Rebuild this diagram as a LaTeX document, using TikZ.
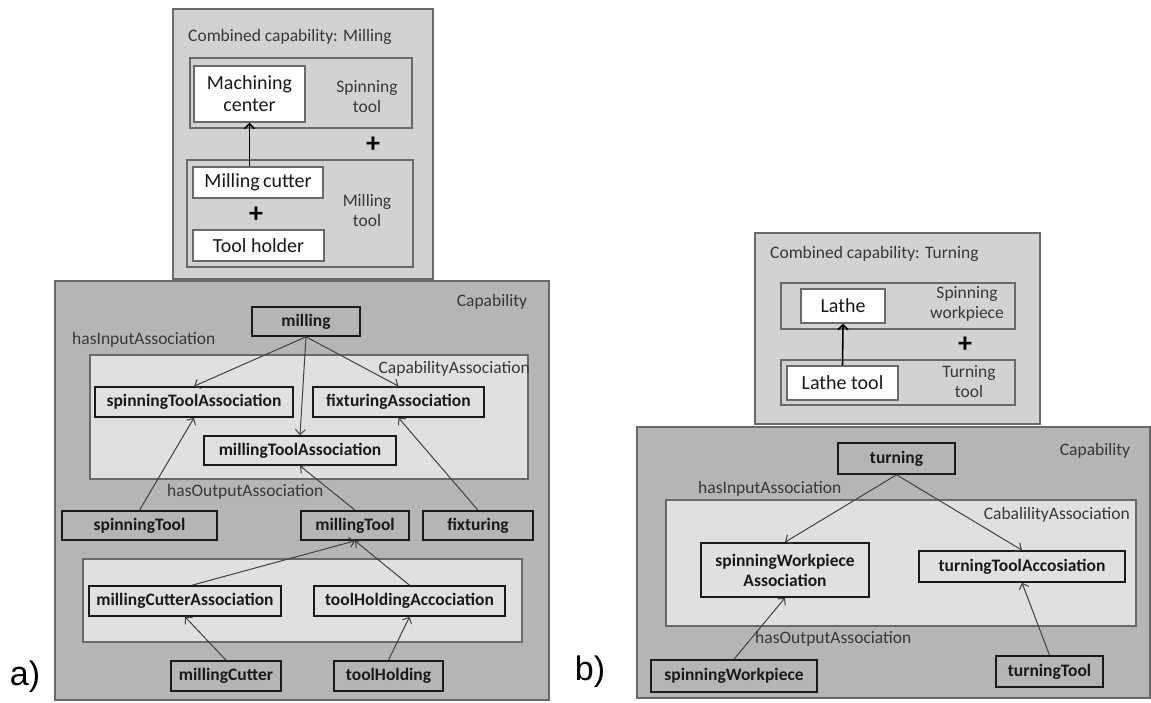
\documentclass[tikz,border=0pt]{standalone}
\usepackage{fontspec}
\setmainfont{Carlito}
\newfontfamily\arialfont{Liberation Sans}
\usetikzlibrary{arrows.meta}
\definecolor{capgray}{RGB}{181,181,181}
\definecolor{combgray}{RGB}{210,210,210}
\definecolor{assocgray}{RGB}{224,224,224}
\definecolor{edgegray}{RGB}{105,105,105}
\definecolor{txtgray}{RGB}{55,55,55}
\tikzset{
    capbox/.style={fill=capgray, draw=edgegray, line width=1.4pt},
    combbox/.style={fill=combgray, draw=edgegray, line width=1.4pt},
    assocbox/.style={fill=assocgray, draw=edgegray, line width=1.2pt},
    item/.style={draw=black!90, line width=1.6pt, inner sep=0pt, align=center,
        font=\fontsize{17.5}{20}\selectfont\bfseries, text=black!90},
    part/.style={fill=white, draw=edgegray, line width=1.2pt, inner sep=0pt,
        align=center, font=\fontsize{20}{22}\selectfont, text=black!90},
    lbl/.style={inner sep=0pt, font=\fontsize{17.5}{20}\selectfont, text=txtgray, align=center},
    plus/.style={inner sep=0pt, font=\fontsize{28}{28}\selectfont\bfseries},
    tag/.style={inner sep=0pt, font=\fontsize{34}{36}\selectfont\arialfont},
    link/.style={-{Straight Barb[length=5pt,width=10pt]}, draw=black!75, line width=1pt},
    uses/.style={-{Straight Barb[length=5pt,width=10pt]}, draw=black, line width=1.6pt}
}
\begin{document}
\begin{tikzpicture}[x=1pt, y=-1pt]
    \useasboundingbox (0,0) rectangle (1151,702);
    % a) milling
    \draw[combbox] (173,9) rectangle (433,279);
    \draw[combbox] (190,58) rectangle (412,128);
    \draw[combbox] (187,160) rectangle (413,267);
    \node[lbl, anchor=west] (combA) at (188,37) {Combined capability: Milling};
    \node[part, minimum width=111pt, minimum height=56pt] (center) at (249.5,94) {Machining\\center};
    \node[part, minimum width=130pt, minimum height=31pt] (cutter) at (258,182.5) {Milling\,cutter};
    \node[part, minimum width=131pt, minimum height=31pt] (holder) at (258.5,245.5) {Tool holder};
    \node[lbl] (spinT) at (367,97) {Spinning\\tool};
    \node[lbl] (millT) at (367,210.5) {Milling\\tool};
    \node[plus] (plusA) at (373,145) {+};
    \node[plus] (plusB) at (256,215) {+};
    \draw[uses] (cutter.north -| center.south) -- (center.south);

    \draw[capbox] (55,281) rectangle (549,700);
    \draw[assocbox] (90,355) rectangle (528,479);
    \draw[assocbox] (83,559) rectangle (522,642);
    \node[lbl] (capA) at (492,302) {Capability};
    \node[lbl, anchor=west] (inA) at (72,340) {hasInputAssociation};
    \node[lbl, anchor=east] (assA) at (530,369) {CapabilityAssociation};
    \node[lbl, anchor=west] (outA) at (167,492) {hasOutputAssociation};
    \node[item, minimum width=108pt, minimum height=29pt] (milling) at (306,321.5) {milling};
    \node[item, minimum width=198pt, minimum height=30pt] (sTA) at (194,402) {spinningToolAssociation};
    \node[item, minimum width=171pt, minimum height=30pt] (fxA) at (398.5,402) {fixturingAssociation};
    \node[item, minimum width=192pt, minimum height=29pt] (mTA) at (300,450.5) {millingToolAssociation};
    \node[item, minimum width=155pt, minimum height=29pt] (sTool) at (139.5,525.5) {spinningTool};
    \node[item, minimum width=108pt, minimum height=29pt] (mTool) at (355,525.5) {millingTool};
    \node[item, minimum width=110pt, minimum height=29pt] (fixt) at (478,525.5) {fixturing};
    \node[item, minimum width=192pt, minimum height=30pt] (mCA) at (185,601) {millingCutterAssociation};
    \node[item, minimum width=191pt, minimum height=30pt] (tHA) at (409.5,601) {toolHoldingAccociation};
    \node[item, minimum width=110pt, minimum height=30pt] (mCut) at (226,676) {millingCutter};
    \node[item, minimum width=109pt, minimum height=30pt] (tHold) at (388.5,676) {toolHolding};
    \draw[link] (milling.south) -- (sTA.north);
    \draw[link] (milling.south) -- (mTA.north);
    \draw[link] (milling.south) -- (fxA.north);
    \draw[link] (sTool.north) -- (sTA.south);
    \draw[link] (mTool.north) -- (mTA.south);
    \draw[link] (fixt.north) -- (fxA.south);
    \draw[link] ([xshift=7pt]mCA.north) -- (mTool.south);
    \draw[link] (tHA.north) -- (mTool.south);
    \draw[link] (mCut.north) -- (mCA.south);
    \draw[link] (tHold.north) -- (tHA.south);
    \node[tag] (tagA) at (25,677) {a)};

    % b) turning
    \draw[combbox] (755,233) rectangle (1040,424);
    \draw[combbox] (781,283) rectangle (1015,329);
    \draw[combbox] (781,360) rectangle (1015,405);
    \node[lbl, anchor=west] (combB) at (770,254) {Combined capability: Turning};
    \node[part, minimum width=84pt, minimum height=34pt] (lathe) at (843,306) {Lathe};
    \node[part, minimum width=111pt, minimum height=34pt] (ltool) at (842.5,383) {Lathe tool};
    \node[lbl] (spinW) at (967,304) {Spinning\\workpiece};
    \node[lbl] (turnT) at (969,381.5) {Turning\\tool};
    \node[plus] (plusC) at (965,345) {+};
    \draw[uses] (ltool.north) -- (lathe.south);

    \draw[capbox] (637,427) rectangle (1150,698);
    \draw[assocbox] (666,500) rectangle (1136,626);
    \node[lbl] (capB) at (1095,451) {Capability};
    \node[lbl, anchor=west] (inB) at (698,489) {hasInputAssociation};
    \node[lbl, anchor=east] (assB) at (1130,515) {CabalilityAssociation};
    \node[lbl, anchor=west] (outB) at (755,639) {hasOutputAssociation};
    \node[item, minimum width=117pt, minimum height=31pt] (turning) at (896.5,458.5) {turning};
    \node[item, minimum width=168pt, minimum height=54pt] (sWA) at (785,570) {spinningWorkpiece\\Association};
    \node[item, minimum width=206pt, minimum height=31pt] (tTA) at (1022,566.5) {turningToolAccosiation};
    \node[item, minimum width=166pt, minimum height=32pt] (sWork) at (734,676) {spinningWorkpiece};
    \node[item, minimum width=107pt, minimum height=31pt] (tTool) at (1049.5,671.5) {turningTool};
    \draw[link] (turning.south) -- (sWA.north);
    \draw[link] (turning.south) -- (tTA.north);
    \draw[link] (sWork.north) -- (sWA.south);
    \draw[link] (tTool.north) -- (tTA.south);
    \node[tag] (tagB) at (590,672) {b)};
\end{tikzpicture}
\end{document}
